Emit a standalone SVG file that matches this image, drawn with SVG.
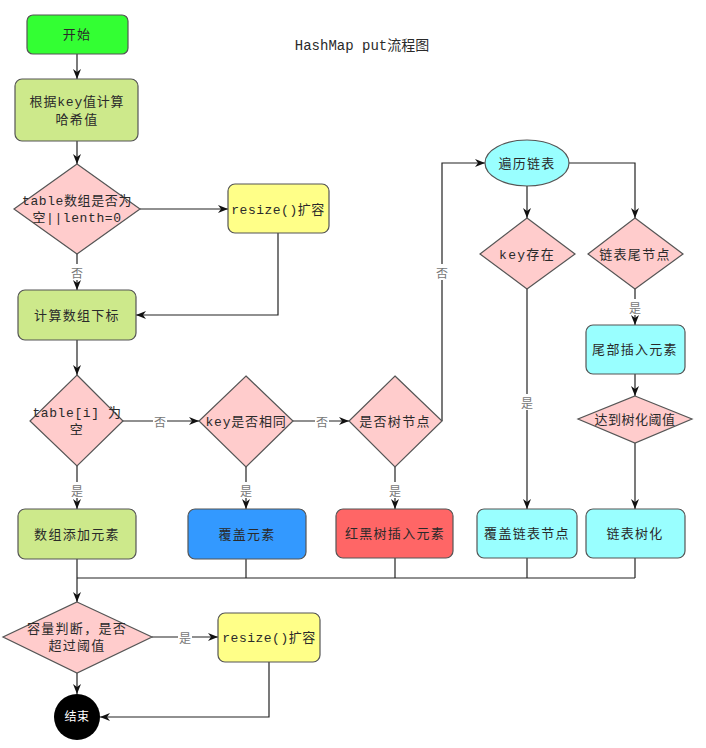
<svg xmlns="http://www.w3.org/2000/svg" width="706" height="748" viewBox="0 0 706 748">
<style>
.n{stroke:#555;stroke-width:1.2}
.t{font-family:"Liberation Mono","Noto Sans CJK SC",monospace;font-size:13px;fill:#2a2a2a;text-anchor:middle;dominant-baseline:central;letter-spacing:1.3px}
.c{fill:none;stroke:#222;stroke-width:1.2}
.lb{font-family:"Noto Sans CJK SC",sans-serif;font-size:12px;fill:#777;text-anchor:middle;dominant-baseline:central}
.g{fill:#cde98b}.y{fill:#ffff88}.p{fill:#ffcccc}.cy{fill:#99ffff}
</style>
<defs>
<marker id="a" viewBox="0 0 10 8" refX="10" refY="4" markerWidth="10" markerHeight="8" markerUnits="userSpaceOnUse" orient="auto">
<path d="M0,0 L10,4 L0,8 L3,4 z" fill="#111"/>
</marker>
</defs>
<text x="362" y="46" class="t" style="letter-spacing:0;font-size:14px">HashMap put流程图</text>

<g id="connectors">
<line class="c" x1="77" y1="54" x2="77" y2="79" marker-end="url(#a)"/>
<line class="c" x1="77" y1="141" x2="77" y2="164" marker-end="url(#a)"/>
<line class="c" x1="140" y1="209" x2="228" y2="209" marker-end="url(#a)"/>
<line class="c" x1="77" y1="254" x2="77" y2="290" marker-end="url(#a)"/>
<polyline class="c" points="278,233 278,315 136,315" marker-end="url(#a)"/>
<line class="c" x1="77" y1="340" x2="77" y2="375" marker-end="url(#a)"/>
<line class="c" x1="123" y1="421" x2="199" y2="421" marker-end="url(#a)"/>
<line class="c" x1="77" y1="466" x2="77" y2="509" marker-end="url(#a)"/>
<line class="c" x1="293" y1="421" x2="349" y2="421" marker-end="url(#a)"/>
<line class="c" x1="246" y1="467" x2="246" y2="509" marker-end="url(#a)"/>
<line class="c" x1="395" y1="467" x2="395" y2="509" marker-end="url(#a)"/>
<polyline class="c" points="442,421 442,163 485,163" marker-end="url(#a)"/>
<line class="c" x1="527" y1="186" x2="527" y2="218" marker-end="url(#a)"/>
<polyline class="c" points="569,163 635,163 635,218" marker-end="url(#a)"/>
<line class="c" x1="527" y1="289" x2="527" y2="509" marker-end="url(#a)"/>
<line class="c" x1="635" y1="289" x2="635" y2="325" marker-end="url(#a)"/>
<line class="c" x1="635" y1="374" x2="635" y2="396" marker-end="url(#a)"/>
<line class="c" x1="635" y1="443" x2="635" y2="509" marker-end="url(#a)"/>
<line class="c" x1="246" y1="559" x2="246" y2="578"/>
<line class="c" x1="395" y1="558" x2="395" y2="578"/>
<line class="c" x1="527" y1="558" x2="527" y2="578"/>
<line class="c" x1="635" y1="558" x2="635" y2="578"/>
<line class="c" x1="77" y1="578" x2="635" y2="578"/>
<line class="c" x1="77" y1="559" x2="77" y2="602" marker-end="url(#a)"/>
<line class="c" x1="152" y1="637" x2="218" y2="637" marker-end="url(#a)"/>
<line class="c" x1="77" y1="673" x2="77" y2="694" marker-end="url(#a)"/>
<polyline class="c" points="269,662 269,717 100,717" marker-end="url(#a)"/>
<g>
<rect x="70" y="264" width="14" height="16" fill="#fff"/><text x="77" y="272" class="lb">否</text>
<rect x="70" y="482" width="14" height="16" fill="#fff"/><text x="77" y="490" class="lb">是</text>
<rect x="153" y="413" width="14" height="16" fill="#fff"/><text x="160" y="421" class="lb">否</text>
<rect x="239" y="482" width="14" height="16" fill="#fff"/><text x="246" y="490" class="lb">是</text>
<rect x="315" y="413" width="14" height="16" fill="#fff"/><text x="322" y="421" class="lb">否</text>
<rect x="388" y="482" width="14" height="16" fill="#fff"/><text x="395" y="490" class="lb">是</text>
<rect x="435" y="264" width="14" height="16" fill="#fff"/><text x="442" y="272" class="lb">否</text>
<rect x="520" y="394" width="14" height="16" fill="#fff"/><text x="527" y="402" class="lb">是</text>
<rect x="628" y="299" width="14" height="16" fill="#fff"/><text x="635" y="307" class="lb">是</text>
<rect x="178" y="629" width="14" height="16" fill="#fff"/><text x="185" y="637" class="lb">是</text>
</g>
</g>

<g id="start"><rect class="n" x="27" y="15" width="101" height="39" rx="6" fill="#33ff33"/><text x="77" y="35" class="t">开始</text></g>
<g id="hash"><rect class="n g" x="15" y="79" width="123" height="62" rx="7"/><text x="77" y="102" class="t" style="letter-spacing:0.8px">根据key值计算</text><text x="77" y="120" class="t">哈希值</text></g>
<g id="d-empty"><polygon class="n p" points="77,164 140,209 77,254 14,209"/><text x="77" y="201" class="t" style="letter-spacing:0.6px">table数组是否为</text><text x="77" y="218" class="t" style="letter-spacing:0.6px">空||lenth=0</text></g>
<g id="resize1"><rect class="n y" x="228" y="184" width="101" height="49" rx="7"/><text x="278" y="210" class="t" style="letter-spacing:0.5px">resize()扩容</text></g>
<g id="index"><rect class="n g" x="18" y="290" width="118" height="50" rx="7"/><text x="77" y="316" class="t">计算数组下标</text></g>
<g id="d-slot"><polygon class="n p" points="77,375 123,421 77,466 30,421"/><text x="77" y="413" class="t" style="letter-spacing:0.6px">table[i] 为</text><text x="77" y="430" class="t">空</text></g>
<g id="add"><rect class="n g" x="18" y="509" width="118" height="50" rx="7"/><text x="77" y="535" class="t">数组添加元素</text></g>
<g id="d-key"><polygon class="n p" points="246,376 293,421 246,467 199,421"/><text x="246" y="422" class="t" style="letter-spacing:0.8px">key是否相同</text></g>
<g id="cover"><rect class="n" x="188" y="509" width="118" height="50" rx="7" fill="#3399ff"/><text x="247" y="535" class="t">覆盖元素</text></g>
<g id="d-tree"><polygon class="n p" points="395,376 442,421 395,467 349,421"/><text x="395" y="422" class="t">是否树节点</text></g>
<g id="rbt"><rect class="n" x="336" y="509" width="117" height="49" rx="7" fill="#ff6666"/><text x="395" y="534" class="t">红黑树插入元素</text></g>
<g id="traverse"><ellipse class="n cy" cx="527" cy="163" rx="42" ry="23"/><text x="527" y="164" class="t">遍历链表</text></g>
<g id="d-exist"><polygon class="n p" points="527,218 575,254 527,289 480,254"/><text x="527" y="255" class="t">key存在</text></g>
<g id="d-tail"><polygon class="n p" points="635,218 683,254 635,289 588,254"/><text x="635" y="255" class="t">链表尾节点</text></g>
<g id="tailins"><rect class="n cy" x="586" y="325" width="99" height="49" rx="7"/><text x="635" y="350" class="t">尾部插入元素</text></g>
<g id="d-thresh"><polygon class="n p" points="635,396 692,419 635,443 578,419"/><text x="635" y="420" class="t" style="letter-spacing:0.5px">达到树化阈值</text></g>
<g id="covernode"><rect class="n cy" x="477" y="509" width="100" height="49" rx="7"/><text x="527" y="534" class="t">覆盖链表节点</text></g>
<g id="treeify"><rect class="n cy" x="586" y="509" width="99" height="49" rx="7"/><text x="635" y="534" class="t">链表树化</text></g>
<g id="d-cap"><polygon class="n p" points="77,602 152,637 77,673 3,637"/><text x="77" y="629" class="t">容量判断，是否</text><text x="77" y="646" class="t">超过阈值</text></g>
<g id="resize2"><rect class="n y" x="218" y="613" width="102" height="49" rx="7"/><text x="269" y="638" class="t" style="letter-spacing:0.5px">resize()扩容</text></g>
<g id="end"><circle cx="77" cy="717" r="23" fill="#000"/><text x="77" y="718" class="t" style="fill:#fff;font-size:12px;letter-spacing:0.5px">结束</text></g>
</svg>
